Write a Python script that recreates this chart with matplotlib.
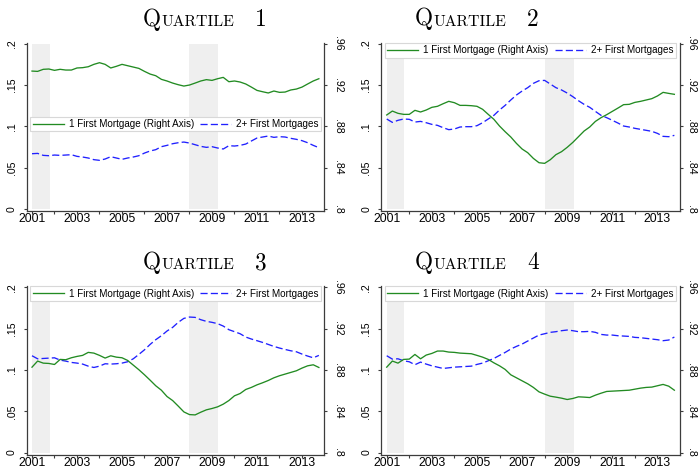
import numpy as np
import matplotlib
matplotlib.use("Agg")
import matplotlib.pyplot as plt
from matplotlib.ticker import FixedLocator

# Quarterly observations, 2001Q1 - 2013Q4
quarters = np.arange(2001, 2014, 0.25)

# Share of borrowers with one first mortgage (right axis)
q1_one = [.9335, .9332, .9352, .9355, .9342, .9352, .9345, .9345, .9365, .9368,
          .9377, .9400, .9416, .9400, .9365, .9381, .9400, .9387, .9374, .9361,
          .9332, .9306, .9290, .9255, .9239, .9219, .9203, .9190, .9200, .9219,
          .9239, .9252, .9245, .9261, .9274, .9232, .9239, .9229, .9210, .9180,
          .9148, .9135, .9123, .9142, .9129, .9132, .9152, .9161, .9180, .9210,
          .9239, .9261]
q2_one = [.8910, .8948, .8926, .8916, .8916, .8955, .8939, .8958, .8984, .8994,
          .9019, .9042, .9029, .9003, .9003, .9000, .8994, .8965, .8916, .8868,
          .8803, .8748, .8697, .8635, .8581, .8545, .8490, .8448, .8442, .8477,
          .8526, .8555, .8597, .8645, .8700, .8755, .8794, .8848, .8884, .8913,
          .8945, .8977, .9010, .9013, .9032, .9042, .9055, .9068, .9094, .9129,
          .9119, .9110]
q3_one = [.8827, .8886, .8866, .8863, .8853, .8902, .8899, .8918, .8931, .8941,
          .8970, .8963, .8941, .8915, .8937, .8924, .8918, .8892, .8847, .8802,
          .8753, .8701, .8647, .8604, .8543, .8504, .8450, .8394, .8368, .8365,
          .8391, .8414, .8427, .8443, .8469, .8504, .8550, .8572, .8611, .8631,
          .8656, .8676, .8698, .8724, .8744, .8760, .8776, .8792, .8818, .8840,
          .8850, .8824]
q4_one = [.8827, .8886, .8866, .8902, .8905, .8950, .8908, .8944, .8960, .8983,
          .8983, .8973, .8970, .8963, .8960, .8957, .8941, .8924, .8902, .8869,
          .8840, .8805, .8753, .8724, .8695, .8666, .8631, .8588, .8566, .8546,
          .8537, .8527, .8514, .8524, .8540, .8537, .8533, .8556, .8575, .8592,
          .8595, .8598, .8601, .8604, .8614, .8624, .8631, .8634, .8647, .8660,
          .8643, .8604]

# Share of borrowers with two or more first mortgages (left axis)
q1_two = [.0669, .0673, .0649, .0645, .0653, .0649, .0653, .0657, .0637, .0629,
          .0617, .0597, .0589, .0605, .0633, .0617, .0601, .0617, .0629, .0645,
          .0677, .0702, .0718, .0754, .0770, .0790, .0802, .0810, .0798, .0778,
          .0758, .0746, .0754, .0738, .0726, .0766, .0762, .0770, .0786, .0823,
          .0859, .0871, .0883, .0867, .0875, .0871, .0855, .0843, .0827, .0802,
          .0770, .0742]
q2_two = [.1089, .1048, .1073, .1089, .1085, .1052, .1060, .1044, .1024, .1012,
          .0984, .0960, .0968, .0992, .0996, .0996, .1008, .1044, .1089, .1133,
          .1198, .1254, .1319, .1379, .1427, .1468, .1520, .1552, .1556, .1512,
          .1468, .1440, .1403, .1359, .1310, .1266, .1230, .1181, .1133, .1105,
          .1073, .1040, .1004, .0992, .0976, .0964, .0952, .0940, .0915, .0879,
          .0875, .0891]
q3_two = [.1172, .1135, .1139, .1143, .1147, .1119, .1107, .1091, .1083, .1071,
          .1046, .1030, .1046, .1075, .1071, .1075, .1083, .1099, .1135, .1188,
          .1244, .1309, .1366, .1414, .1471, .1515, .1576, .1624, .1640, .1636,
          .1608, .1588, .1576, .1560, .1531, .1487, .1463, .1438, .1398, .1374,
          .1354, .1333, .1309, .1285, .1265, .1248, .1232, .1220, .1192, .1168,
          .1147, .1176]
q4_two = [.1172, .1131, .1135, .1111, .1099, .1063, .1095, .1071, .1050, .1034,
          .1018, .1026, .1034, .1038, .1042, .1046, .1067, .1083, .1111, .1139,
          .1176, .1212, .1253, .1285, .1313, .1350, .1386, .1422, .1438, .1455,
          .1463, .1475, .1483, .1475, .1463, .1463, .1467, .1455, .1430, .1422,
          .1422, .1414, .1410, .1406, .1394, .1390, .1382, .1374, .1366, .1354,
          .1362, .1398]

# Recession periods (shaded)
recessions = [(2001.0, 2001.78), (2008.0, 2009.28)]

left_ticks = [0, .05, .1, .15, .2]
left_labels = ["0", ".05", ".1", ".15", ".2"]
right_ticks = [.8, .84, .88, .92, .96]
right_labels = [".8", ".84", ".88", ".92", ".96"]
year_labels = [2001, 2003, 2005, 2007, 2009, 2011, 2013]
year_minor = [2002, 2004, 2006, 2008, 2010, 2012]

label_one = "1 First Mortgage (Right Axis)"
label_two = "2+ First Mortgages"
titles = ["1", "2", "3", "4"]

GREEN = "#228B22"
BLUE = "#2020ff"
SHADE = "#efefef"
AXCOL = "#3c3c3c"
SANS = ["Liberation Sans", "DejaVu Sans"]

W, H = 698, 469
fig = plt.figure(figsize=(W / 100, H / 100), dpi=100)
fig.patch.set_facecolor("white")


def px_box(l, r, t, b):
    return [l / W, 1 - b / H, (r - l) / W, (b - t) / H]


panels = [
    dict(box=(26.6, 324.5, 42.7, 211.0), one=q1_one, two=q1_two, leg="mid",
         legx=(30.5, 321.0), legy=124.0, title=(142.7, 26.0), rpad=3.0),
    dict(box=(381.3, 680.0, 42.7, 211.0), one=q2_one, two=q2_two, leg="top",
         legx=(385.0, 676.0), title=(415.0, 25.5), rpad=1.5),
    dict(box=(26.6, 324.5, 286.3, 454.6), one=q3_one, two=q3_two, leg="top",
         legx=(30.5, 321.0), title=(142.7, 269.0), rpad=3.0),
    dict(box=(381.3, 680.0, 286.3, 454.6), one=q4_one, two=q4_two, leg="top",
         legx=(385.0, 676.0), title=(415.0, 269.0), rpad=1.5),
]

ylo, yhi = -0.0024, 0.2012
renderer = fig.canvas.get_renderer()

for p, num in zip(panels, titles):
    l, r, t, b = p["box"]
    ax = fig.add_axes(px_box(l, r, t, b))
    ax2 = ax.twinx()
    ax.set_xlim(2000.76, 2014.0)
    ax.set_ylim(ylo, yhi)
    ax2.set_ylim(0.8 + 0.8 * ylo, 0.8 + 0.8 * yhi)

    for a, c in recessions:
        ax.axvspan(a, c, ymin=(0 - ylo) / (yhi - ylo), ymax=(0.2 - ylo) / (yhi - ylo),
                   facecolor=SHADE, edgecolor="none", zorder=0)

    l2, = ax.plot(quarters, p["two"], color=BLUE, lw=0.95, dashes=(5.4, 2.4), zorder=3)
    l1, = ax2.plot(quarters, p["one"], color=GREEN, lw=0.95, zorder=3)

    for a in (ax, ax2):
        for s in a.spines.values():
            s.set_color(AXCOL)
            s.set_linewidth(0.9)
        a.spines["top"].set_visible(False)
    ax.spines["right"].set_visible(False)
    ax2.spines["left"].set_visible(False)
    ax2.spines["bottom"].set_visible(False)

    ax.set_yticks(left_ticks)
    ax.set_yticklabels(left_labels, rotation=90, va="center", family=SANS, fontsize=7.6)
    ax2.set_yticks(right_ticks)
    ax2.set_yticklabels(right_labels, rotation=270, va="center", family=SANS, fontsize=7.6)
    ax.set_xticks(year_labels)
    ax.set_xticklabels([str(y) for y in year_labels], family=SANS, fontsize=8.8)
    ax.xaxis.set_minor_locator(FixedLocator(year_minor))
    ax.tick_params(axis="y", direction="out", length=2.2, width=0.8, color=AXCOL, pad=5.0)
    ax2.tick_params(axis="y", direction="out", length=2.2, width=0.8, color=AXCOL,
                    pad=p["rpad"] + 0.6)
    ax.tick_params(axis="x", which="both", direction="out", length=2.2, width=0.8,
                   color=AXCOL, pad=-0.8)
    ax.set_facecolor("white")

    # legend spanning the plot width
    aw = r - l
    x0 = (p["legx"][0] - l) / aw
    lw_ = (p["legx"][1] - p["legx"][0]) / aw
    if p["leg"] == "mid":
        yc = (b - p["legy"]) / (b - t)
        bbox, loc = (x0, yc, lw_, 0), "center left"
    else:
        bbox, loc = (x0, 0, lw_, 1.0), "upper left"
    leg = ax2.legend([l1, l2], [label_one, label_two], ncol=2, mode="expand",
                     bbox_to_anchor=bbox, loc=loc, borderaxespad=0,
                     prop={"family": SANS, "size": 7.1}, handlelength=3.1,
                     handletextpad=0.55, borderpad=0.25, fancybox=False,
                     frameon=True, framealpha=1, edgecolor="#d8d8d8",
                     facecolor="white")
    leg.get_frame().set_linewidth(0.8)
    leg.set_zorder(10)

    # title set in small capitals
    tx, ty = p["title"]
    fx, fy = tx / W, 1 - ty / H
    tq = fig.text(fx, fy, "Q", family="cmr10", fontsize=16.8, va="baseline", ha="left")
    wq = tq.get_window_extent(renderer).width
    fig.text(fx + (wq + 0.5) / W, fy, "UARTILE", family="cmr10", fontsize=11.3,
             va="baseline", ha="left")
    fig.text(fx + 112.0 / W, fy, num, family="cmr10", fontsize=16.8,
             va="baseline", ha="left")

fig.savefig("out.png", dpi=100, facecolor="white")
